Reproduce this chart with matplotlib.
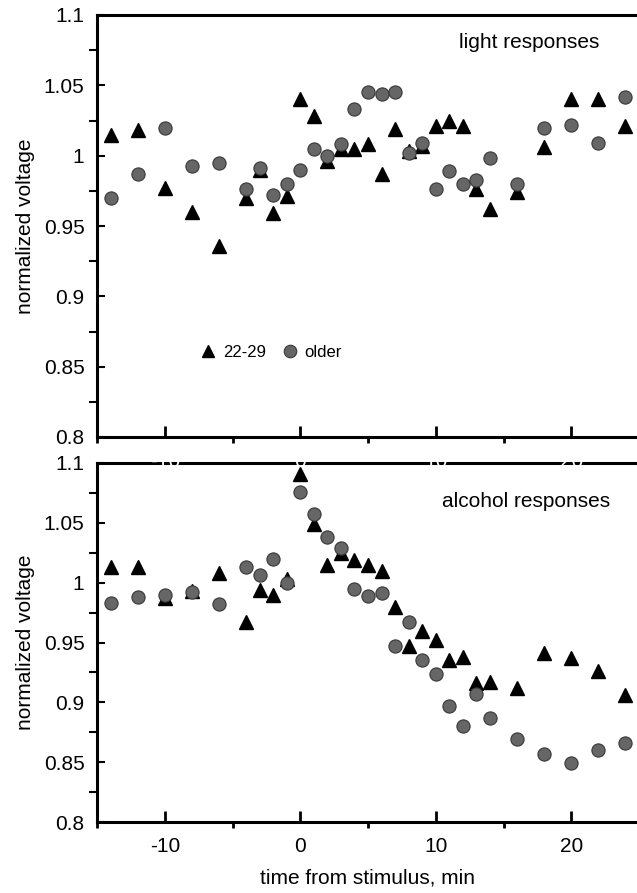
import numpy as np
import matplotlib.pyplot as plt
from matplotlib.ticker import MultipleLocator

plt.rcParams['font.family'] = ['Liberation Sans', 'DejaVu Sans']
plt.rcParams['axes.unicode_minus'] = False

# time from stimulus (min)
t = [-14, -12, -10, -8, -6, -4, -3, -2, -1, 0, 1, 2, 3, 4, 5, 6, 7, 8, 9,
     10, 11, 12, 13, 14, 16, 18, 20, 22, 24]

# light responses
light_young = [1.015, 1.018, 0.977, 0.960, 0.936, 0.970, 0.990, 0.959, 0.971,
               1.040, 1.028, 0.996, 1.005, 1.005, 1.008, 0.987, 1.019, 1.003,
               1.007, 1.021, 1.025, 1.021, 0.976, 0.962, 0.974, 1.006, 1.040,
               1.040, 1.021]
light_older = [0.970, 0.987, 1.020, 0.993, 0.995, 0.976, 0.991, 0.972, 0.980,
               0.990, 1.005, 1.000, 1.008, 1.033, 1.045, 1.044, 1.045, 1.002,
               1.009, 0.976, 0.989, 0.980, 0.983, 0.998, 0.980, 1.020, 1.022,
               1.009, 1.042]

# alcohol responses
alc_young = [1.013, 1.013, 0.987, 0.993, 1.008, 0.967, 0.994, 0.990, 1.003,
             1.091, 1.049, 1.015, 1.025, 1.019, 1.015, 1.010, 0.980, 0.947,
             0.960, 0.952, 0.935, 0.938, 0.916, 0.917, 0.912, 0.941, 0.937,
             0.926, 0.906]
alc_older = [0.983, 0.988, 0.990, 0.992, 0.982, 1.013, 1.006, 1.020, 1.000,
             1.076, 1.057, 1.038, 1.029, 0.995, 0.989, 0.991, 0.947, 0.967,
             0.935, 0.924, 0.897, 0.880, 0.907, 0.887, 0.869, 0.857, 0.849,
             0.860, 0.866]

W, H = 637, 893
fig = plt.figure(figsize=(W / 100, H / 100), dpi=100)
ax1 = fig.add_axes([97 / W, 1 - 437 / H, 540 / W, 422 / H])
ax2 = fig.add_axes([97 / W, 1 - 822 / H, 540 / W, 359 / H])
ax1.set_zorder(3)

tri = dict(marker='^', color='black', markersize=9.5, linestyle='none')
circ = dict(marker='o', markerfacecolor='#666666', markeredgecolor='#383838',
            markeredgewidth=0.8, markersize=9.5, linestyle='none')

ax1.plot(t, light_young, label='22-29', **tri)
ax1.plot(t, light_older, label='older', **circ)
ax2.plot(t, alc_young, **tri)
ax2.plot(t, alc_older, **circ)

for ax in (ax1, ax2):
    ax.set_xlim(-15, 24.85)
    ax.set_ylim(0.8, 1.1)
    ax.xaxis.set_major_locator(MultipleLocator(10))
    ax.xaxis.set_minor_locator(MultipleLocator(5))
    ax.yaxis.set_major_locator(MultipleLocator(0.05))
    ax.yaxis.set_minor_locator(MultipleLocator(0.025))
    ax.yaxis.set_major_formatter(lambda v, p: f'{v:g}')
    ax.tick_params(direction='in', labelsize=15, width=2, top=False, right=False)
    ax.tick_params(axis='x', which='major', length=8, pad=11)
    ax.tick_params(axis='x', which='minor', length=4, width=2)
    ax.tick_params(axis='y', which='both', length=6, width=1.5, pad=9)
    ax.spines['right'].set_visible(False)
    for s in ('left', 'top', 'bottom'):
        ax.spines[s].set_linewidth(2.2)
    ax.set_ylabel('normalized voltage', fontsize=15, labelpad=6)

# top panel tick labels are white (they sit on the lower panel's frame)
ax1.tick_params(axis='x', labelcolor='white')
ax1.patch.set_alpha(0)

ax1.text(0.8, 0.934, 'light responses', transform=ax1.transAxes,
         ha='center', va='center', fontsize=15)
ax2.text(0.794, 0.892, 'alcohol responses', transform=ax2.transAxes,
         ha='center', va='center', fontsize=15)
ax1.legend(loc='center left', bbox_to_anchor=(0.16, 0.2), ncol=2,
           frameon=False, fontsize=12, handletextpad=0.3, columnspacing=0.8,
           handlelength=1.2, markerscale=0.95)
ax2.set_xlabel('time from stimulus, min', fontsize=15, labelpad=9)

fig.savefig('out.png', dpi=100)
